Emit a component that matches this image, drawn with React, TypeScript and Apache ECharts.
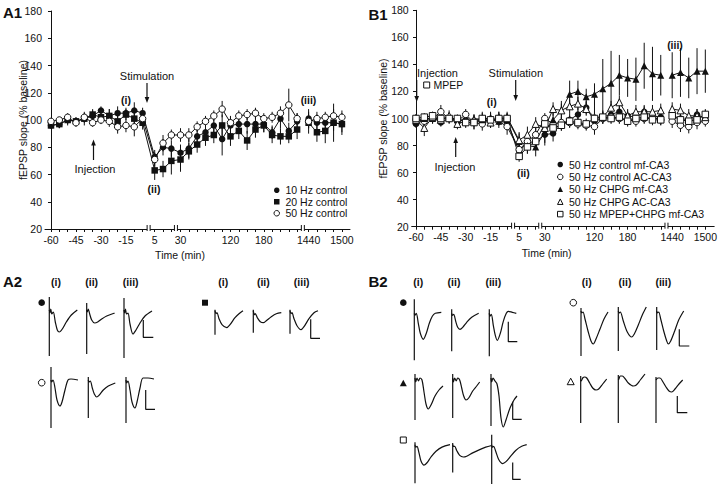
import React, { useEffect, useRef } from "react";
import * as echarts from "echarts";

const FONT = "'Liberation Sans', Arial, Helvetica, sans-serif";
const INK = "#111";

// ---------- time points (min) ----------
const BASE_T = [-60, -55, -50, -45, -40, -35, -30, -25, -20, -15, -10, -5];
const EARLY_T = [5, 10, 15];
const MID_T = [30, 45, 60, 75, 90, 105, 120, 135, 150, 165, 180, 195, 210, 225, 240];
const LATE_T = [1440, 1455, 1470, 1485, 1500];
const TIMES = [...BASE_T, ...EARLY_T, ...MID_T, ...LATE_T];
const X_TICK_LABELS = [-60, -45, -30, -15, 5, 30, 120, 180, 1440, 1500];

// ---------- A1 : fEPSP slope (% baseline), mean and SEM ----------
const A1_10HZ = [96, 97, 100, 99, 101, 103, 107, 103, 105, 105, 107, 105, 73, 80, 79, 76, 79, 88, 91, 96, 86, 96, 97, 97, 97, 97, 91, 101, 92, 99, 101, 98, 98, 98, 97];
const A1_10HZ_SEM = [2, 3, 4, 3, 5, 4, 3, 5, 5, 4, 6, 4, 5, 6, 6, 6, 7, 5, 5, 6, 12, 6, 6, 7, 6, 6, 5, 7, 6, 6, 7, 6, 6, 14, 6];
const A1_20HZ = [96, 97, 100, 99, 101, 104, 102, 103, 99, 104, 101, 98, 63, 64, 70, 71, 77, 82, 87, 89, 96, 88, 92, 85, 93, 96, 89, 88, 88, 93, 98, 91, 92, 98, 97];
const A1_20HZ_SEM = [2, 3, 3, 3, 3, 4, 4, 5, 6, 4, 5, 5, 7, 6, 10, 9, 6, 6, 6, 6, 8, 7, 6, 7, 6, 5, 6, 6, 5, 7, 8, 7, 9, 6, 8];
const A1_50HZ = [99, 100, 102, 98, 102, 98, 100, 99, 95, 96, 95, 101, 71, 83, 89, 89, 89, 95, 99, 103, 108, 98, 103, 104, 105, 101, 102, 105, 111, 101, 99, 101, 102, 103, 102];
const A1_50HZ_SEM = [2, 2, 3, 3, 3, 3, 3, 4, 5, 5, 7, 4, 5, 6, 4, 5, 5, 4, 4, 4, 6, 5, 4, 4, 4, 4, 4, 5, 12, 4, 5, 5, 4, 5, 5];

// ---------- B1 ----------
const B1_CTRL_MF = [96, 99, 101, 97, 100, 99, 99, 98, 98, 99, 98, 97, 76, 82, 83, 88, 89, 96, 99, 103, 108, 98, 101, 103, 105, 102, 101, 105, 102, 101, 102, 100, 99, 103, 100];
const B1_CTRL_MF_SEM = [3, 3, 3, 3, 3, 3, 3, 3, 3, 3, 3, 3, 6, 5, 5, 8, 6, 5, 5, 5, 5, 5, 4, 4, 4, 4, 4, 4, 4, 4, 4, 4, 4, 4, 4];
const B1_CTRL_AC = [99, 98, 100, 105, 100, 98, 103, 97, 96, 99, 98, 94, 77, 83, 88, 100, 96, 97, 97, 96, 95, 94, 100, 101, 100, 99, 98, 100, 101, 99, 98, 95, 94, 97, 98];
const B1_CTRL_AC_SEM = [4, 4, 4, 5, 4, 4, 4, 5, 5, 5, 5, 6, 6, 6, 5, 4, 4, 4, 4, 4, 4, 4, 4, 4, 4, 4, 4, 4, 4, 4, 5, 5, 5, 5, 4];
const B1_CHPG_MF = [98, 100, 100, 99, 101, 99, 98, 100, 99, 101, 98, 100, 83, 80, 79, 90, 99, 106, 118, 120, 116, 118, 122, 126, 132, 130, 129, 139, 133, 132, 132, 134, 130, 135, 135];
const B1_CHPG_MF_SEM = [3, 3, 3, 3, 3, 3, 3, 3, 3, 3, 3, 3, 6, 6, 7, 8, 8, 7, 10, 8, 6, 8, 22, 24, 15, 14, 16, 17, 20, 15, 17, 18, 15, 17, 16];
const B1_CHPG_AC = [99, 93, 101, 99, 102, 96, 98, 99, 100, 97, 101, 101, 84, 88, 96, 93, 107, 106, 109, 111, 107, 101, 101, 108, 112, 102, 105, 105, 105, 106, 107, 106, 102, 102, 101];
const B1_CHPG_AC_SEM = [4, 6, 4, 4, 4, 4, 4, 4, 4, 4, 4, 4, 6, 6, 5, 5, 5, 5, 5, 5, 5, 5, 5, 5, 5, 5, 5, 5, 5, 5, 5, 5, 5, 5, 5];
const B1_MPEP = [100, 101, 102, 100, 100, 100, 97, 97, 100, 99, 100, 100, 72, 79, 83, 96, 93, 95, 98, 97, 96, 100, 101, 100, 101, 98, 100, 101, 99, 99, 102, 99, 98, 99, 103];
const B1_MPEP_SEM = [3, 3, 3, 3, 3, 3, 4, 5, 5, 6, 5, 4, 4, 5, 5, 5, 5, 4, 4, 4, 4, 12, 4, 4, 4, 4, 4, 4, 4, 4, 4, 4, 4, 4, 4];

// ---------- example traces: spike [top, bottom] and waveform [t, amplitude] ----------
const A2_FILLED_CIRCLE_TRACES = [
  { spike: [13, -46], curve: [[0, 0], [0.6, -3], [1.5, 1], [2.5, -4], [4, -2], [6, -12], [8, -20], [10, -22], [13, -19], [17, -12], [22, -5], [28, 0]] },
  { spike: [7, -44], curve: [[0, 0], [0.6, -2], [1.5, 1], [3, -4], [5, -10], [8, -13], [11, -12], [15, -9], [20, -6], [28, -3]] },
  { spike: [12, -48], curve: [[0, 0], [0.6, -3], [1.5, 1], [2.5, -4], [4, -3], [6, -14], [9, -24], [12, -20], [16, -13], [21, -6], [28, -1]] },
];
const A2_OPEN_CIRCLE_TRACES = [
  { spike: [13, -48], curve: [[0, 0], [0.6, -2], [2, 0], [4, -8], [6, -20], [9, -26], [11, -22], [14, -10], [17, 0], [20, 1], [27, 0]] },
  { spike: [3, -38], curve: [[0, 0], [0.6, -2], [2, -1], [4, -8], [6, -14], [8.5, -17], [11, -15], [15, -10], [20, -6], [27, -3]] },
  { spike: [3, -43], curve: [[0, 0], [0.6, -3], [2, -1], [4, -10], [6, -22], [9, -28], [11, -22], [14, -8], [17, 2], [22, 2], [28, 1]] },
];
const A2_FILLED_SQUARE_TRACES = [
  { spike: [1, -24], curve: [[0, 0], [1, -3], [2, -2], [4, -8], [7, -14], [11.7, -17], [15, -14], [20, -7], [24, -3], [28, 0]] },
  { spike: [1, -22], curve: [[0, 0], [1, -4], [2, -3], [4, -7], [7, -11], [10, -12], [13, -10], [18, -6], [23, -3], [28, -2]] },
  { spike: [1, -23], curve: [[0, 0], [1, -3], [2, -2], [4, -8], [7, -15], [11, -19], [14, -16], [19, -8], [24, -2], [28, 0]] },
];
const B2_FILLED_CIRCLE_TRACES = [
  { spike: [14, -47], curve: [[0, 0], [0.6, -2], [2, 0], [4, -10], [6, -20], [9, -26], [12, -20], [15, -10], [18, -3], [21, 0], [27, 1]] },
  { spike: [4, -38], curve: [[0, 0], [0.6, -2], [2, -1], [4, -8], [6, -14], [8.3, -16], [11, -14], [15, -9], [20, -4], [27, 0]] },
  { spike: [4, -43], curve: [[0, 0], [0.6, -3], [2, -1], [4, -12], [6, -22], [8, -27], [11, -20], [14, -8], [17, 0], [19, 2], [23, 1], [27, 0]] },
];
const B2_FILLED_TRIANGLE_TRACES = [
  { spike: [4, -42], curve: [[0, 0], [0.7, -4], [2, 0], [3.5, -3], [5, 0], [7, -2], [9, -14], [11, -26], [13.3, -31], [16, -27], [20, -18], [24, -12], [28, -8]] },
  { spike: [4, -40], curve: [[0, 0], [0.7, -4], [2, 0], [3.5, -3], [5, 0], [7, -2], [9, -10], [11, -18], [13.3, -22], [16, -20], [20, -13], [24, -8], [27, -4]] },
  { spike: [4, -48], curve: [[0, 0], [0.7, -4], [2, 0], [4, -3], [6, -6], [8, -18], [10, -40], [12.3, -49], [15, -42], [19, -30], [23, -22], [26, -18]] },
];
const B2_OPEN_SQUARE_TRACES = [
  { spike: [3, -47], curve: [[0, 0], [0.6, -3], [2, -2], [4, -10], [6, -20], [9, -25], [12, -22], [16, -15], [21, -8], [27, -3], [35, 0]] },
  { spike: [2, -34], curve: [[0, 0], [0.6, -2], [2, -2], [4, -7], [7, -13], [10.6, -15], [14, -14], [20, -10], [27, -6], [33, -3], [39, -1]] },
  { spike: [12, -48], curve: [[0, 0], [0.6, -3], [2, -2], [4, -8], [7, -18], [11, -23], [14, -21], [19, -14], [24, -7], [30, -2], [35, 0]] },
];
const B2_OPEN_CIRCLE_TRACES = [
  { spike: [3, -45], curve: [[0, 0], [0.7, -2], [2, -1], [4, -8], [7, -20], [10, -30], [12.3, -33], [15, -28], [19, -18], [23, -8], [27, -1]] },
  { spike: [4, -40], curve: [[0, 0], [0.7, -2], [2, -1], [5, -10], [9, -21], [13.4, -26], [16, -23], [20, -14], [24, -4], [28, 4]] },
  { spike: [4, -39], curve: [[0, 0], [0.7, -2], [2, -1], [4, -8], [7, -20], [10, -30], [11.6, -33], [14, -30], [18, -20], [22, -9], [27, 0]] },
];
const B2_OPEN_TRIANGLE_TRACES = [
  { spike: [4, -43], curve: [[0, 0], [0.6, -1], [2, 2], [4, 3], [6, 2], [9, -3], [12, -8], [15.3, -10], [18, -9], [22, -4], [26, 1]] },
  { spike: [5, -43], curve: [[0, 0], [0.6, 1], [2, 4], [4, 4], [7, 1], [10, -3], [15, -6], [18, -5], [22, 0], [26.7, 6]] },
  { spike: [3, -43], curve: [[0, 0], [0.6, 0], [2, 2], [4, 2], [7, -2], [10, -7], [13, -11], [15.7, -12], [19, -9], [23, -4], [26.7, 0]] },
];

// ---------- axis position of a time point (broken axis) ----------
function timeToPos(t: number): number {
  if (t < 0) return (t + 60) / 5;
  if (t < 30) return 12.45 + (t - 5) / 5;
  if (t < 1000) return 15.55 + (t - 30) / 15;
  return 30.93 + (t - 1440) / 15;
}
const BREAK_POS = [11.72, 15.0, 30.24];

type SeriesDef = { name: string; values: number[]; sem: number[]; symbol: string; open: boolean; size: number };

const A1_SERIES: SeriesDef[] = [
  { name: "10 Hz control", values: A1_10HZ, sem: A1_10HZ_SEM, symbol: "circle", open: false, size: 6.5 },
  { name: "20 Hz control", values: A1_20HZ, sem: A1_20HZ_SEM, symbol: "rect", open: false, size: 6.5 },
  { name: "50 Hz control", values: A1_50HZ, sem: A1_50HZ_SEM, symbol: "circle", open: true, size: 6.5 },
];
const B1_SERIES: SeriesDef[] = [
  { name: "50 Hz control mf-CA3", values: B1_CTRL_MF, sem: B1_CTRL_MF_SEM, symbol: "circle", open: false, size: 6.5 },
  { name: "50 Hz control AC-CA3", values: B1_CTRL_AC, sem: B1_CTRL_AC_SEM, symbol: "circle", open: true, size: 6.5 },
  { name: "50 Hz CHPG mf-CA3", values: B1_CHPG_MF, sem: B1_CHPG_MF_SEM, symbol: "triangle", open: false, size: 7 },
  { name: "50 Hz CHPG AC-CA3", values: B1_CHPG_AC, sem: B1_CHPG_AC_SEM, symbol: "triangle", open: true, size: 7 },
  { name: "50 Hz MPEP+CHPG mf-CA3", values: B1_MPEP, sem: B1_MPEP_SEM, symbol: "rect", open: true, size: 6.5 },
];

const PANELS = [
  { grid: { left: 45, top: 11, width: 305, height: 218 }, xMin: -0.72, xMax: 35.9, series: A1_SERIES,
    legend: { left: 273.5, top: 184.5, lineHeight: 11.5 } },
  { grid: { left: 411.7, top: 10.3, width: 304.3, height: 216.4 }, xMin: -0.52, xMax: 36, series: B1_SERIES,
    legend: { left: 557, top: 158.3, lineHeight: 12.4 } },
];

// trace rows layout (pixel placement of each row)
const TRACE_ROWS = [
  { traces: A2_FILLED_CIRCLE_TRACES, artX: [49.3, 86.7, 124], baseY: 310, bar: { x: 19.3, top: -10, h: 17.3, w: 10 } },
  { traces: A2_OPEN_CIRCLE_TRACES, artX: [51, 88.3, 126], baseY: 380, bar: { x: 19.7, top: -10, h: 19.3, w: 9.3 } },
  { traces: A2_FILLED_SQUARE_TRACES, artX: [215, 253.3, 290], baseY: 310.7, bar: { x: 20.7, top: -8.6, h: 19, w: 9.3 } },
  { traces: B2_FILLED_CIRCLE_TRACES, artX: [414.3, 451.7, 489.3], baseY: 313.3, bar: { x: 19, top: -8.4, h: 20, w: 9 } },
  { traces: B2_FILLED_TRIANGLE_TRACES, artX: [415, 452.7, 491], baseY: 378, bar: { x: 21.7, top: -23.7, h: 17.6, w: 9 } },
  { traces: B2_OPEN_SQUARE_TRACES, artX: [415, 452.7, 491.7], baseY: 448.3, bar: { x: 21, top: -21.7, h: 20.7, w: 8 } },
  { traces: B2_OPEN_CIRCLE_TRACES, artX: [581, 618.3, 656.7], baseY: 311, bar: { x: 22.6, top: -18.3, h: 16.7, w: 10 } },
  { traces: B2_OPEN_TRIANGLE_TRACES, artX: [580.7, 618.3, 656], baseY: 380, bar: { x: 21.3, top: -16, h: 16.7, w: 10 } },
];

function text(str: string, x: number, y: number, size = 10.5, bold = false, rotation = 0, align = "center") {
  return {
    type: "text", x, y, rotation, z: 100, silent: true,
    style: {
      text: str, fill: INK, font: `${bold ? "bold " : ""}${size}px ${FONT}`,
      textAlign: align, textVerticalAlign: "middle", align, verticalAlign: "middle",
    },
  };
}
function arrow(x: number, y1: number, y2: number) {
  const dir = y2 > y1 ? 1 : -1;
  return [
    { type: "line", z: 100, silent: true, shape: { x1: x, y1, x2: x, y2: y2 - dir * 4 }, style: { stroke: INK, lineWidth: 1.2 } },
    { type: "polygon", z: 100, silent: true, shape: { points: [[x - 2.3, y2 - dir * 6], [x + 2.3, y2 - dir * 6], [x, y2]] }, style: { fill: INK } },
  ];
}
function marker(kind: string, x: number, y: number) {
  const open = kind.startsWith("open");
  const style = open ? { fill: "#fff", stroke: INK, lineWidth: 1 } : { fill: INK };
  if (kind.endsWith("Circle")) return { type: "circle", z: 100, silent: true, shape: { cx: x, cy: y, r: 3.3 }, style };
  if (kind.endsWith("Square")) return { type: "rect", z: 100, silent: true, shape: { x: x - 3, y: y - 3, width: 6, height: 6 }, style };
  return { type: "polygon", z: 100, silent: true, shape: { points: [[x, y - 3.5], [x + 3.5, y + 3], [x - 3.5, y + 3]] }, style };
}

function buildOption() {
  const grid: any[] = [];
  const xAxis: any[] = [];
  const yAxis: any[] = [];
  const series: any[] = [];
  const legend: any[] = [];

  const tickPos = TIMES.map(timeToPos);
  const labelPos = X_TICK_LABELS.map(timeToPos);

  PANELS.forEach((p, pi) => {
    grid.push({ ...p.grid, containLabel: false });
    xAxis.push({
      gridIndex: pi, type: "value", min: p.xMin, max: p.xMax,
      axisLine: { show: true, onZero: false, lineStyle: { color: INK, width: 1 } },
      axisTick: { show: true, length: 3, customValues: tickPos, lineStyle: { color: INK } },
      axisLabel: {
        customValues: labelPos, fontSize: 10.5, fontFamily: FONT, color: INK, margin: 5,
        formatter: (v: number) => {
          const i = labelPos.findIndex((q) => Math.abs(q - v) < 1e-3);
          return i >= 0 ? String(X_TICK_LABELS[i]) : "";
        },
      },
      splitLine: { show: false },
    });
    yAxis.push({
      gridIndex: pi, type: "value", min: 20, max: 180, interval: 20,
      axisLine: { show: true, lineStyle: { color: INK, width: 1 } },
      axisTick: { show: true, length: 3, lineStyle: { color: INK } },
      axisLabel: { fontSize: 10.5, fontFamily: FONT, color: INK, margin: 3 },
      splitLine: { show: false },
    });

    // error bars
    p.series.forEach((s) => {
      series.push({
        type: "custom", xAxisIndex: pi, yAxisIndex: pi, silent: true, z: 1, clip: false,
        data: TIMES.map((t, i) => [timeToPos(t), s.values[i], s.sem[i]]),
        encode: { x: 0, y: 1 },
        renderItem: (_params: any, api: any) => {
          const x = api.value(0), y = api.value(1), e = api.value(2);
          const a = api.coord([x, y - e]);
          const b = api.coord([x, y + e]);
          return { type: "line", shape: { x1: a[0], y1: a[1], x2: b[0], y2: b[1] }, style: { stroke: INK, lineWidth: 1 } };
        },
      });
    });
    // lines + symbols
    p.series.forEach((s) => {
      const data: any[] = [];
      TIMES.forEach((t, i) => {
        data.push([timeToPos(t), s.values[i]]);
        if (t === 240) data.push([BREAK_POS[2], "-"]);
      });
      series.push({
        type: "line", name: s.name, xAxisIndex: pi, yAxisIndex: pi, data, z: 3,
        symbol: s.symbol, symbolSize: s.size, showSymbol: true, connectNulls: false, silent: true,
        lineStyle: { color: INK, width: 1 },
        itemStyle: s.open ? { color: "#fff", borderColor: INK, borderWidth: 1 } : { color: INK, borderColor: INK, borderWidth: 0 },
      });
    });
    // axis break marks
    series.push({
      type: "custom", xAxisIndex: pi, yAxisIndex: pi, silent: true, z: 10, clip: false,
      data: BREAK_POS.map((b) => [b, 20]),
      encode: { x: 0, y: 1 },
      renderItem: (_params: any, api: any) => {
        const c = api.coord([api.value(0), api.value(1)]);
        return {
          type: "group",
          children: [
            { type: "rect", shape: { x: c[0] - 1.5, y: c[1] - 1.5, width: 3, height: 3 }, style: { fill: "#fff" } },
            { type: "line", shape: { x1: c[0] - 1.5, y1: c[1] - 4, x2: c[0] - 1.5, y2: c[1] + 2 }, style: { stroke: INK, lineWidth: 1 } },
            { type: "line", shape: { x1: c[0] + 1.5, y1: c[1] - 4, x2: c[0] + 1.5, y2: c[1] + 2 }, style: { stroke: INK, lineWidth: 1 } },
          ],
        };
      },
    });

    legend.push({
      data: p.series.map((s) => ({
        name: s.name,
        icon: s.symbol,
        itemStyle: s.open ? { color: "#fff", borderColor: INK, borderWidth: 1 } : { color: INK, borderWidth: 0 },
      })),
      left: p.legend.left, top: p.legend.top, orient: "vertical", itemGap: 0, itemWidth: 5.5, itemHeight: 5.5,
      padding: 0, selectedMode: false,
      textStyle: { fontSize: 10.5, fontFamily: FONT, color: INK, lineHeight: p.legend.lineHeight, padding: [0, 0, 0, 1] },
    });
  });

  // trace grids
  TRACE_ROWS.forEach((row) => {
    row.traces.forEach((tr, k) => {
      const gi = grid.length;
      grid.push({ left: row.artX[k] - 2, top: row.baseY - 20, width: 47, height: 85 });
      xAxis.push({ gridIndex: gi, type: "value", min: -2, max: 45, show: false });
      yAxis.push({ gridIndex: gi, type: "value", min: -65, max: 20, show: false });
      series.push({
        type: "line", xAxisIndex: gi, yAxisIndex: gi, silent: true, showSymbol: false, clip: false,
        data: [[0, tr.spike[0]], [0, tr.spike[1]]], lineStyle: { color: INK, width: 1.2 },
      });
      series.push({
        type: "line", xAxisIndex: gi, yAxisIndex: gi, silent: true, showSymbol: false, clip: false,
        smooth: 0.3, data: tr.curve, lineStyle: { color: INK, width: 1.2 },
      });
      if (k === 2) {
        const b = row.bar;
        series.push({
          type: "line", xAxisIndex: gi, yAxisIndex: gi, silent: true, showSymbol: false, clip: false,
          data: [[b.x, b.top], [b.x, b.top - b.h], [b.x + b.w, b.top - b.h]],
          lineStyle: { color: INK, width: 1.2 },
        });
      }
    });
  });

  const graphic: any[] = [
    // panel labels
    text("A1", 12.5, 12, 15, true),
    text("B1", 378, 14, 15, true),
    text("A2", 12.5, 281, 15, true),
    text("B2", 378, 281, 15, true),
    // axis titles
    text("fEPSP slope (% baseline)", 22.5, 120, 10.5, false, Math.PI / 2),
    text("fEPSP slope (% baseline)", 383, 118.5, 10.5, false, Math.PI / 2),
    text("Time (min)", 180, 255, 10.5),
    text("Time (min)", 546.7, 253.3, 10.5),
    // A1 annotations
    text("Stimulation", 147, 75.5, 11),
    ...arrow(147, 83, 103),
    text("(i)", 126, 100, 10.5, true),
    text("(ii)", 154, 188.5, 10.5, true),
    text("(iii)", 308.5, 99.5, 10.5, true),
    text("Injection", 95, 168.5, 11),
    ...arrow(93.5, 160, 139.5),
    // B1 annotations
    text("Injection", 437.5, 72.7, 11),
    ...arrow(416.7, 80, 102),
    marker("openSquare", 426.7, 85),
    text("MPEP", 433.5, 85, 10.5, false, 0, "left"),
    text("Stimulation", 515.8, 72.7, 11),
    ...arrow(515.7, 80, 101),
    text("(i)", 491.7, 101.7, 10.5, true),
    text("Injection", 455, 166.7, 11),
    ...arrow(455.7, 157, 137),
    text("(ii)", 523.3, 173.3, 10.5, true),
    text("(iii)", 675, 45, 10.5, true),
    // trace column labels
    ...[[56, 91.7, 130.7], [223.3, 263.3, 301.7], [418.3, 454, 493.3], [586.7, 625, 663.3]].flatMap((xs) =>
      xs.map((x, i) => text(["(i)", "(ii)", "(iii)"][i], x, 282, 10.5, true))
    ),
    // row markers
    marker("fillCircle", 41.7, 302.7),
    marker("openCircle", 41.7, 382.7),
    marker("fillSquare", 205, 302.7),
    marker("fillCircle", 403.3, 302.7),
    marker("fillTriangle", 403.3, 383.3),
    marker("openSquare", 403.3, 440),
    marker("openCircle", 573.3, 302.7),
    marker("openTriangle", 570.7, 381.7),
  ];

  return {
    animation: false,
    backgroundColor: "#fff",
    textStyle: { fontFamily: FONT },
    grid, xAxis, yAxis, series, legend, graphic,
  };
}

export default function App() {
  const ref = useRef<HTMLDivElement>(null);
  useEffect(() => {
    document.body.style.margin = "0";
    const chart = echarts.init(ref.current as HTMLDivElement, null, { renderer: "svg" });
    chart.setOption(buildOption() as any);
    return () => chart.dispose();
  }, []);
  return <div ref={ref} style={{ width: 720, height: 498, background: "#fff" }} />;
}
